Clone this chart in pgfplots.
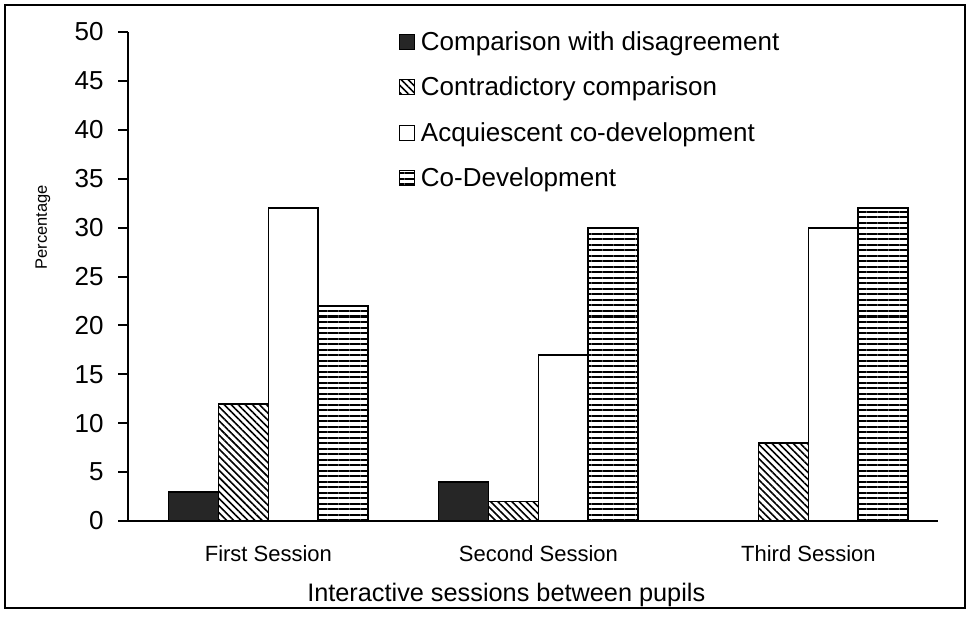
\documentclass[border=0pt]{standalone}
\usepackage{fontspec}
\setmainfont{Liberation Sans}
\usepackage{pgfplots}
\pgfplotsset{compat=1.18}
\usetikzlibrary{patterns.meta}
\begin{document}
\begin{tikzpicture}
\begin{axis}[
  at={(128pt,98pt)}, anchor=south west,
  scale only axis, width=810pt, height=489pt,
  xmin=0.48, xmax=3.48, ymin=0, ymax=50,
  axis x line=bottom, axis y line=left,
  axis line style={-, line width=2pt},
  ytick={0,5,...,50}, xtick={1,2,3},
  xticklabels={First Session, Second Session, Third Session},
  x tick style={draw=none},
  y tick style={line width=2pt, black},
  tick align=outside, major tick length=10pt,
  /pgf/number format/assume math mode=true,
  yticklabel style={font=\fontsize{26}{30}\selectfont, xshift=-11pt},
  xticklabel style={font=\fontsize{22}{26}\selectfont, yshift=-11pt},
  xlabel={Interactive sessions between pupils},
  xlabel style={font=\fontsize{25.3}{30}\selectfont, at={(axis description cs:0.467,-0.1656)}, anchor=base},
  ylabel={Percentage},
  ylabel style={font=\fontsize{16.5}{19}\selectfont, at={(axis description cs:-0.105,0.601)}, anchor=center},
  ybar=0pt, bar width=0.185,
  ybar legend/.style={legend image code/.code={\draw[##1, line width=1.2pt] (0pt,-7.5pt) rectangle (15pt,7.5pt);}},
  legend image code/.code={\draw[#1, line width=1.2pt] (0pt,-7.5pt) rectangle (15pt,7.5pt);},
  legend style={draw=none, fill=none, at={(axis description cs:0.334,1.005)}, anchor=north west,
    font=\fontsize{26}{30}\selectfont, row sep=21pt, inner sep=0pt,
    nodes={inner xsep=6pt}},
  legend cell align=left,
]
\addplot[fill=black!85, draw=black, line width=1.8pt] coordinates {(1,3) (2,4) (3,0)};
\addplot[fill=white, draw=black, line width=1.8pt, pattern={Lines[angle=-45,distance=5pt,line width=1.6pt]}] coordinates {(1,12) (2,2) (3,8)};
\addplot[fill=white, draw=black, line width=1.8pt] coordinates {(1,32) (2,17) (3,30)};
\addplot[fill=white, draw=black, line width=1.8pt, pattern={Lines[angle=0,distance=5.5pt,line width=2pt]}] coordinates {(1,22) (2,30) (3,32)};
\legend{Comparison with disagreement, Contradictory comparison, Acquiescent co-development, Co-Development}
\end{axis}
\draw[line width=2pt] (5pt,11pt) rectangle (965pt,614pt);
\pgfresetboundingbox
\useasboundingbox (0,0) rectangle (968pt,619pt);
\end{tikzpicture}
\end{document}
